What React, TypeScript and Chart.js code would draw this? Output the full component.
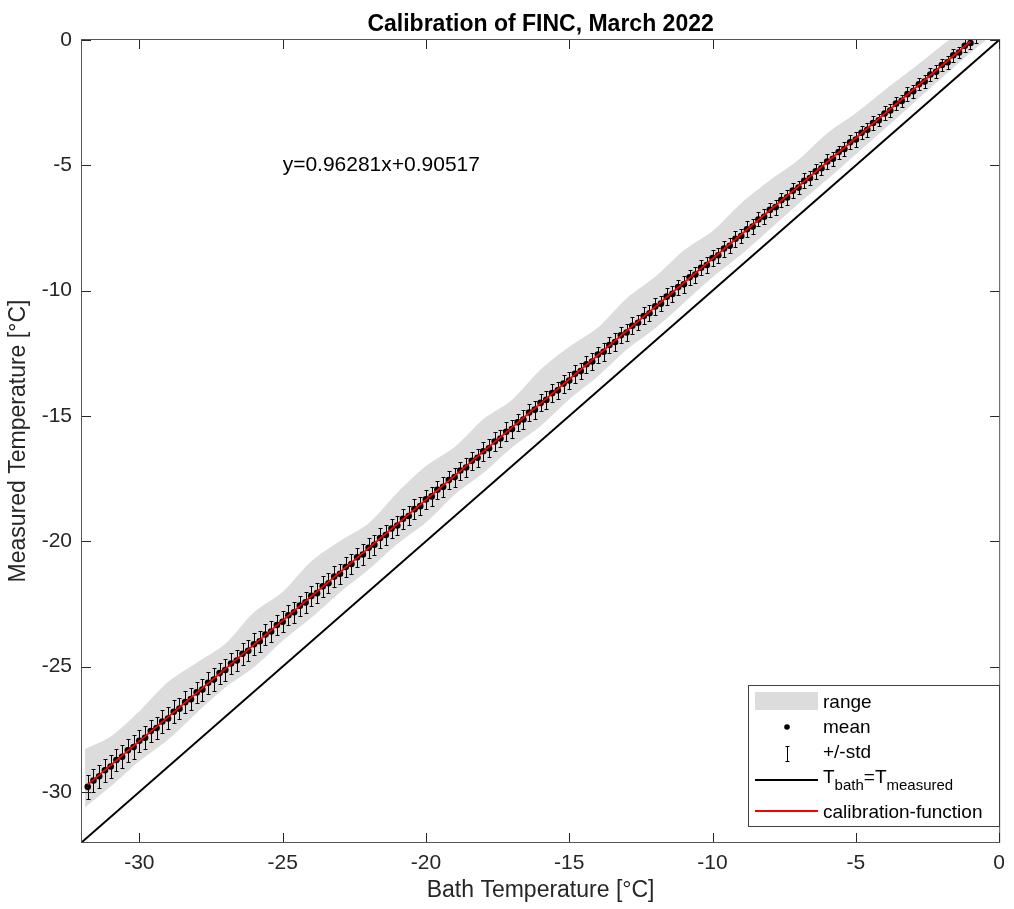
import React, { useEffect, useRef } from 'react';
import { Chart, registerables } from 'chart.js';

Chart.register(...registerables);

const BATH_T = [
  -31.8, -31.6, -31.4, -31.2,
  -31.0, -30.8, -30.6, -30.4, -30.2,
  -30.0, -29.8, -29.6, -29.4, -29.2,
  -29.0, -28.8, -28.6, -28.4, -28.2,
  -28.0, -27.8, -27.6, -27.4, -27.2,
  -27.0, -26.8, -26.6, -26.4, -26.2,
  -26.0, -25.8, -25.6, -25.4, -25.2,
  -25.0, -24.8, -24.6, -24.4, -24.2,
  -24.0, -23.8, -23.6, -23.4, -23.2,
  -23.0, -22.8, -22.6, -22.4, -22.2,
  -22.0, -21.8, -21.6, -21.4, -21.2,
  -21.0, -20.8, -20.6, -20.4, -20.2,
  -20.0, -19.8, -19.6, -19.4, -19.2,
  -19.0, -18.8, -18.6, -18.4, -18.2,
  -18.0, -17.8, -17.6, -17.4, -17.2,
  -17.0, -16.8, -16.6, -16.4, -16.2,
  -16.0, -15.8, -15.6, -15.4, -15.2,
  -15.0, -14.8, -14.6, -14.4, -14.2,
  -14.0, -13.8, -13.6, -13.4, -13.2,
  -13.0, -12.8, -12.6, -12.4, -12.2,
  -12.0, -11.8, -11.6, -11.4, -11.2,
  -11.0, -10.8, -10.6, -10.4, -10.2,
  -10.0, -9.8, -9.6, -9.4, -9.2,
  -9.0, -8.8, -8.6, -8.4, -8.2,
  -8.0, -7.8, -7.6, -7.4, -7.2,
  -7.0, -6.8, -6.6, -6.4, -6.2,
  -6.0, -5.8, -5.6, -5.4, -5.2,
  -5.0, -4.8, -4.6, -4.4, -4.2,
  -4.0, -3.8, -3.6, -3.4, -3.2,
  -3.0, -2.8, -2.6, -2.4, -2.2,
  -2.0, -1.8, -1.6, -1.4, -1.2,
  -1.0, -0.8, -0.6,
];

const MEAN_T = [
  -29.80, -29.55, -29.38, -29.14,
  -28.99, -28.73, -28.60, -28.34, -28.21,
  -27.96, -27.84, -27.57, -27.45, -27.19,
  -27.07, -26.80, -26.68, -26.42, -26.30,
  -26.03, -25.92, -25.65, -25.52, -25.26,
  -25.14, -24.88, -24.76, -24.49, -24.37,
  -24.11, -23.99, -23.72, -23.60, -23.34,
  -23.21, -22.95, -22.83, -22.57, -22.44,
  -22.18, -22.07, -21.80, -21.68, -21.41,
  -21.30, -21.03, -20.91, -20.64, -20.53,
  -20.26, -20.14, -19.87, -19.75, -19.49,
  -19.37, -19.10, -18.99, -18.72, -18.60,
  -18.33, -18.21, -17.95, -17.83, -17.56,
  -17.44, -17.18, -17.06, -16.79, -16.67,
  -16.41, -16.29, -16.02, -15.90, -15.63,
  -15.52, -15.25, -15.14, -14.86, -14.75,
  -14.48, -14.36, -14.09, -13.98, -13.71,
  -13.59, -13.32, -13.21, -12.94, -12.83,
  -12.55, -12.44, -12.17, -12.05, -11.78,
  -11.67, -11.40, -11.28, -11.01, -10.90,
  -10.63, -10.52, -10.24, -10.13, -9.86,
  -9.75, -9.47, -9.36, -9.09, -8.98,
  -8.70, -8.59, -8.32, -8.21, -7.93,
  -7.82, -7.55, -7.44, -7.16, -7.05,
  -6.78, -6.67, -6.39, -6.28, -6.01,
  -5.89, -5.62, -5.51, -5.24, -5.12,
  -4.85, -4.74, -4.47, -4.35, -4.08,
  -3.97, -3.70, -3.58, -3.31, -3.20,
  -2.93, -2.81, -2.54, -2.43, -2.16,
  -2.04, -1.77, -1.66, -1.38, -1.27,
  -1.00, -0.89, -0.61, -0.50, -0.23,
  -0.12, 0.15, 0.30,
];

const STD_T = [
  0.48, 0.46, 0.47, 0.45, 0.47, 0.44, 0.46, 0.45, 0.47, 0.44,
  0.46, 0.45, 0.43, 0.46, 0.44, 0.45, 0.43, 0.45, 0.44, 0.42,
  0.44, 0.43, 0.45, 0.42, 0.44, 0.43, 0.41, 0.44, 0.42, 0.43,
  0.41, 0.43, 0.42, 0.40, 0.43, 0.41, 0.42, 0.40, 0.42, 0.41,
  0.39, 0.42, 0.40, 0.41, 0.39, 0.41, 0.40, 0.38, 0.41, 0.39,
  0.40, 0.38, 0.40, 0.39, 0.37, 0.40, 0.38, 0.39, 0.37, 0.39,
  0.38, 0.36, 0.39, 0.37, 0.38, 0.36, 0.38, 0.37, 0.35, 0.38,
  0.36, 0.37, 0.35, 0.37, 0.36, 0.34, 0.37, 0.35, 0.36, 0.34,
  0.36, 0.35, 0.33, 0.36, 0.34, 0.35, 0.33, 0.35, 0.34, 0.32,
  0.35, 0.33, 0.34, 0.32, 0.34, 0.33, 0.31, 0.34, 0.32, 0.33,
  0.31, 0.33, 0.32, 0.30, 0.33, 0.31, 0.32, 0.30, 0.32, 0.31,
  0.29, 0.32, 0.30, 0.31, 0.29, 0.31, 0.30, 0.28, 0.31, 0.29,
  0.30, 0.28, 0.30, 0.29, 0.27, 0.30, 0.28, 0.29, 0.27, 0.29,
  0.28, 0.26, 0.29, 0.27, 0.28, 0.26, 0.28, 0.27, 0.25, 0.28,
  0.26, 0.27, 0.25, 0.27, 0.26, 0.24, 0.27, 0.25, 0.26, 0.24,
  0.26, 0.25, 0.23, 0.26, 0.24, 0.25, 0.24,
];

const RANGE_X = [
  -31.9, -31, -30, -29, -28, -27, -26, -25, -24, -23, -22, -21, -20, -19, -18, -17,
  -16, -15, -14, -13, -12, -11, -10, -9, -8, -7, -6, -5, -4, -3, -2, -1, -0.4,
];
const RANGE_MAX = [
  -28.30, -27.79, -26.78, -25.62, -24.85, -24.09, -22.83, -22.02, -20.80, -19.99, -19.28,
  -18.06, -17.00, -16.24, -15.13, -14.36, -13.15, -12.24, -11.47, -10.31, -9.45, -8.39,
  -7.62, -6.51, -5.60, -4.78, -3.72, -2.91, -2.00, -1.13, -0.22, 0.64, 1.20,
];
const RANGE_MIN = [
  -30.62, -29.79, -28.78, -27.92, -26.85, -25.84, -25.03, -23.97, -23.05, -22.04, -21.13,
  -20.11, -19.25, -18.14, -17.28, -16.26, -15.40, -14.34, -13.42, -12.36, -11.50, -10.49,
  -9.47, -8.56, -7.55, -6.53, -5.57, -4.56, -3.55, -2.53, -1.52, -0.51, 0.05,
];

const CAL_X = [-31.8, -1.0];
const CAL_Y = [-29.712, -0.058];
const IDENT_X = [-32, 0];
const IDENT_Y = [-32, 0];

const X_TICKS = [-30, -25, -20, -15, -10, -5, 0];
const Y_TICKS = [-30, -25, -20, -15, -10, -5, 0];
const AXIS_MIN = -32;
const AXIS_MAX = 0;

const TITLE = 'Calibration of FINC, March 2022';
const X_LABEL = 'Bath Temperature [°C]';
const Y_LABEL = 'Measured Temperature [°C]';
const FIT_TEXT = 'y=0.96281x+0.90517';
const FIT_POS = [-25, -5];

const FONT = '"Liberation Sans", Arial, Helvetica, sans-serif';
const W = 1014;
const H = 909;

const pts = (xs: number[], ys: number[]) => xs.map((x, i) => ({ x, y: ys[i] }));

const decorPlugin = {
  id: 'decor',
  beforeDatasetDraw(chart: any, args: any) {
    if (args.index !== 2) return;
    const { ctx, chartArea: a } = chart;
    const xs = chart.scales.x;
    const ys = chart.scales.y;
    ctx.save();
    ctx.beginPath();
    ctx.rect(a.left, a.top, a.right - a.left, a.bottom - a.top);
    ctx.clip();
    ctx.strokeStyle = '#000000';
    ctx.lineWidth = 1;
    ctx.beginPath();
    for (let i = 0; i < BATH_T.length; i++) {
      const px = Math.round(xs.getPixelForValue(BATH_T[i])) + 0.5;
      const y1 = Math.round(ys.getPixelForValue(MEAN_T[i] + STD_T[i])) + 0.5;
      const y2 = Math.round(ys.getPixelForValue(MEAN_T[i] - STD_T[i])) + 0.5;
      ctx.moveTo(px, y1);
      ctx.lineTo(px, y2);
      ctx.moveTo(px - 2, y1);
      ctx.lineTo(px + 2, y1);
      ctx.moveTo(px - 2, y2);
      ctx.lineTo(px + 2, y2);
    }
    ctx.stroke();
    ctx.restore();
  },
  afterDraw(chart: any) {
    const { ctx, chartArea: a } = chart;
    const xs = chart.scales.x;
    const ys = chart.scales.y;
    ctx.save();
    // frame
    ctx.strokeStyle = '#555555';
    ctx.lineWidth = 1;
    ctx.strokeRect(a.left - 0.5, a.top - 0.5, a.right - a.left + 1, a.bottom - a.top + 1);
    // inward ticks
    ctx.strokeStyle = '#262626';
    ctx.beginPath();
    const TL = 9;
    X_TICKS.forEach((v) => {
      const px = Math.round(xs.getPixelForValue(v)) + 0.5;
      ctx.moveTo(px, a.bottom);
      ctx.lineTo(px, a.bottom - TL);
      ctx.moveTo(px, a.top);
      ctx.lineTo(px, a.top + TL);
    });
    Y_TICKS.forEach((v) => {
      const py = Math.round(ys.getPixelForValue(v)) + 0.5;
      ctx.moveTo(a.left, py);
      ctx.lineTo(a.left + TL, py);
      ctx.moveTo(a.right, py);
      ctx.lineTo(a.right - TL, py);
    });
    ctx.stroke();

    // title
    const cx = (a.left + a.right) / 2;
    ctx.fillStyle = '#000000';
    ctx.font = `bold 23px ${FONT}`;
    ctx.textAlign = 'center';
    ctx.textBaseline = 'alphabetic';
    ctx.fillText(TITLE, cx, 31);

    // axis labels
    ctx.fillStyle = '#262626';
    ctx.font = `23px ${FONT}`;
    ctx.fillText(X_LABEL, cx, 897);
    ctx.save();
    ctx.translate(19, (a.top + a.bottom) / 2);
    ctx.rotate(-Math.PI / 2);
    ctx.textBaseline = 'middle';
    ctx.fillText(Y_LABEL, 0, 0);
    ctx.restore();

    // fit annotation
    ctx.fillStyle = '#000000';
    ctx.font = `21px ${FONT}`;
    ctx.textAlign = 'left';
    ctx.textBaseline = 'middle';
    ctx.fillText(FIT_TEXT, xs.getPixelForValue(FIT_POS[0]), ys.getPixelForValue(FIT_POS[1]));

    // legend
    const lx = 748.5;
    const ly = 685.5;
    const lw = 251;
    const lh = 141;
    ctx.fillStyle = '#ffffff';
    ctx.fillRect(lx, ly, lw, lh);
    ctx.strokeStyle = '#404040';
    ctx.lineWidth = 1;
    ctx.strokeRect(lx, ly, lw, lh);

    const tx = 823;
    const sx0 = 755;
    const sx1 = 818;
    const sc = 787;
    // range
    ctx.fillStyle = '#dcdcdc';
    ctx.fillRect(sx0, 692, sx1 - sx0, 18);
    // mean
    ctx.fillStyle = '#000000';
    ctx.beginPath();
    ctx.arc(sc, 727, 2.8, 0, Math.PI * 2);
    ctx.fill();
    // std
    ctx.strokeStyle = '#000000';
    ctx.beginPath();
    ctx.moveTo(sc + 0.5, 746.5);
    ctx.lineTo(sc + 0.5, 761.5);
    ctx.moveTo(sc - 1.5, 746.5);
    ctx.lineTo(sc + 2.5, 746.5);
    ctx.moveTo(sc - 1.5, 761.5);
    ctx.lineTo(sc + 2.5, 761.5);
    ctx.stroke();
    // identity
    ctx.lineWidth = 2;
    ctx.strokeStyle = '#000000';
    ctx.beginPath();
    ctx.moveTo(sx0, 780);
    ctx.lineTo(sx1, 780);
    ctx.stroke();
    // calibration
    ctx.strokeStyle = '#ff0000';
    ctx.beginPath();
    ctx.moveTo(sx0, 811);
    ctx.lineTo(sx1, 811);
    ctx.stroke();

    ctx.fillStyle = '#000000';
    ctx.textAlign = 'left';
    ctx.textBaseline = 'alphabetic';
    ctx.font = `19px ${FONT}`;
    ctx.fillText('range', tx, 708);
    ctx.fillText('mean', tx, 733);
    ctx.fillText('+/-std', tx, 758);
    ctx.fillText('calibration-function', tx, 818);
    // T_bath = T_measured
    let cur = tx;
    const main = `19px ${FONT}`;
    const sub = `15px ${FONT}`;
    const parts: [string, boolean][] = [
      ['T', false],
      ['bath', true],
      ['=T', false],
      ['measured', true],
    ];
    parts.forEach(([t, isSub]) => {
      ctx.font = isSub ? sub : main;
      ctx.fillText(t, cur, isSub ? 790 : 783);
      cur += ctx.measureText(t).width;
    });

    ctx.restore();
  },
};

export default function App() {
  const ref = useRef<HTMLCanvasElement | null>(null);

  useEffect(() => {
    if (!ref.current) return;
    const chart = new Chart(ref.current, {
      type: 'line',
      data: {
        datasets: [
          {
            label: 'identity',
            data: pts(IDENT_X, IDENT_Y),
            borderColor: '#000000',
            borderWidth: 2,
            pointRadius: 0,
            fill: false,
            order: 0,
          },
          {
            label: 'calibration-function',
            data: pts(CAL_X, CAL_Y),
            borderColor: '#ff0000',
            borderWidth: 1.8,
            pointRadius: 0,
            fill: false,
            order: 1,
          },
          {
            label: 'mean',
            data: pts(BATH_T, MEAN_T),
            showLine: false,
            pointRadius: 3.3,
            pointBorderWidth: 0,
            pointBackgroundColor: '#000000',
            borderColor: '#000000',
            fill: false,
            order: 2,
          },
          {
            label: 'range-max',
            data: pts(RANGE_X, RANGE_MAX),
            borderColor: 'rgba(0,0,0,0)',
            borderWidth: 0,
            pointRadius: 0,
            backgroundColor: '#dcdcdc',
            fill: '+1',
            tension: 0.3,
            order: 3,
          },
          {
            label: 'range-min',
            data: pts(RANGE_X, RANGE_MIN),
            borderColor: 'rgba(0,0,0,0)',
            borderWidth: 0,
            pointRadius: 0,
            fill: false,
            tension: 0.3,
            order: 4,
          },
        ],
      },
      options: {
        animation: false,
        responsive: false,
        devicePixelRatio: 1,
        layout: { padding: { top: 40, right: 8, left: 0, bottom: 0 } },
        plugins: {
          legend: { display: false },
          title: { display: false },
          tooltip: { enabled: false },
        },
        scales: {
          x: {
            type: 'linear',
            min: AXIS_MIN,
            max: AXIS_MAX,
            afterBuildTicks: (s: any) => {
              s.ticks = X_TICKS.map((v) => ({ value: v }));
            },
            afterFit: (s: any) => {
              s.height = 67;
            },
            grid: { display: false, drawTicks: false },
            border: { display: false },
            ticks: {
              autoSkip: false,
              maxRotation: 0,
              padding: 9,
              color: '#262626',
              font: { family: FONT, size: 21 },
              callback: (v: any) => String(v),
            },
          },
          y: {
            type: 'linear',
            min: AXIS_MIN,
            max: AXIS_MAX,
            afterBuildTicks: (s: any) => {
              s.ticks = Y_TICKS.map((v) => ({ value: v }));
            },
            afterFit: (s: any) => {
              s.width = 82;
            },
            grid: { display: false, drawTicks: false },
            border: { display: false },
            ticks: {
              autoSkip: false,
              padding: 10,
              color: '#262626',
              font: { family: FONT, size: 21 },
              callback: (v: any) => String(v),
            },
          },
        },
      },
      plugins: [decorPlugin],
    } as any);
    return () => chart.destroy();
  }, []);

  return (
    <div style={{ position: 'absolute', left: 0, top: 0, width: W, height: H, background: '#ffffff' }}>
      <canvas ref={ref} width={W} height={H} style={{ display: 'block', width: W, height: H }} />
    </div>
  );
}
